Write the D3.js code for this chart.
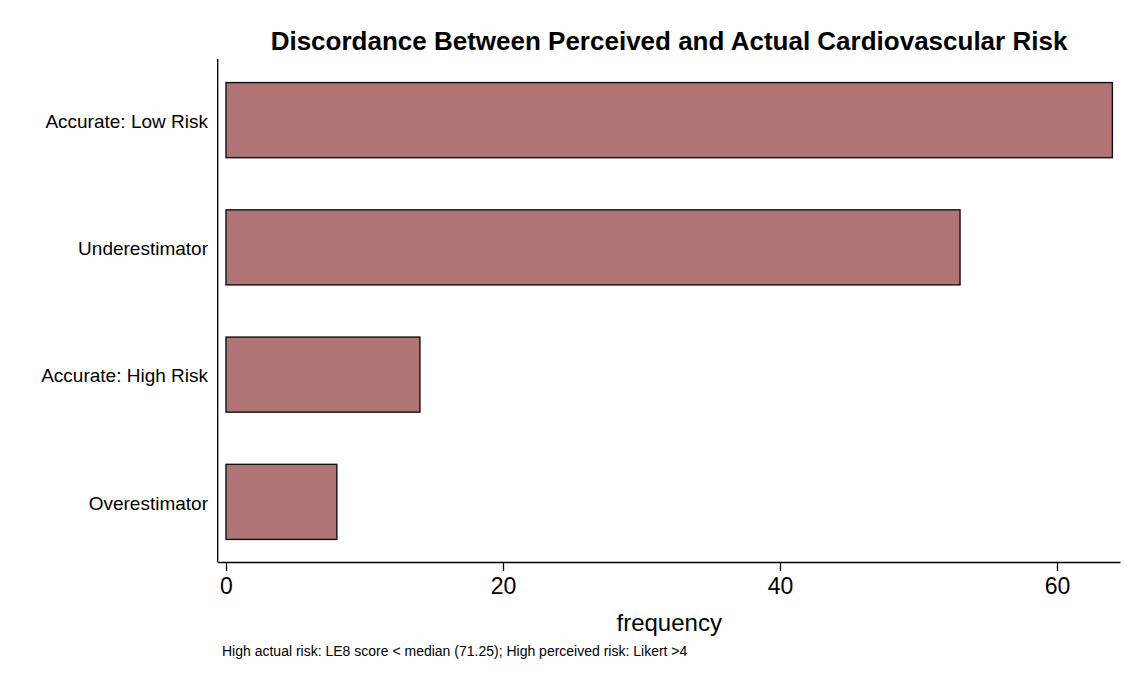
<!DOCTYPE html>
<html>
<head>
<meta charset="utf-8">
<script src="https://cdn.jsdelivr.net/npm/d3@7"></script>
<style>
  body { margin: 0; background: #fff; }
  text { font-family: "Liberation Sans", Arial, sans-serif; }
</style>
</head>
<body>
<svg></svg>
<script>
// categories, top to bottom
const categories = ["Accurate: Low Risk", "Underestimator", "Accurate: High Risk", "Overestimator"];
const frequencies = [64, 53, 14, 8];
const xTicks = [0, 20, 40, 60];

const width = 1145, height = 687;

let svg = d3.select("svg")
  .attr("width", width)
  .attr("height", height);

svg.append("rect").attr("width", width).attr("height", height).attr("fill", "#fff");

let scaleX = d3.scaleLinear().domain([-0.6, 64.55]).range([217.7, 1120]);
let scaleY = d3.scaleBand().domain(categories).range([56.5, 565.5]).paddingInner(0.41).paddingOuter(0.205);

// bars
svg.append("g")
  .selectAll("rect")
  .data(categories)
  .enter()
  .append("rect")
  .attr("x", scaleX(0))
  .attr("y", d => scaleY(d))
  .attr("width", (d, i) => scaleX(frequencies[i]) - scaleX(0))
  .attr("height", scaleY.bandwidth())
  .attr("fill", "#b07474")
  .attr("stroke", "#111")
  .attr("stroke-width", 1.4);

// left axis (line only, labels placed separately)
svg.append("line")
  .attr("x1", 217.7).attr("x2", 217.7)
  .attr("y1", 59).attr("y2", 562.5)
  .attr("stroke", "#000").attr("stroke-width", 1.3);

svg.append("g")
  .selectAll("text")
  .data(categories)
  .enter()
  .append("text")
  .attr("x", 208)
  .attr("y", d => scaleY(d) + scaleY.bandwidth() / 2 + 1)
  .attr("dy", "0.35em")
  .attr("text-anchor", "end")
  .attr("font-size", 19)
  .attr("fill", "#000")
  .text(d => d);

// bottom axis
let xAxis = svg.append("g")
  .attr("transform", "translate(0,562)")
  .call(d3.axisBottom(scaleX).tickValues(xTicks).tickSize(9).tickPadding(7).tickSizeOuter(0));
xAxis.select(".domain").attr("stroke", "#000").attr("stroke-width", 1.3);
xAxis.selectAll(".tick line").attr("stroke", "#000").attr("stroke-width", 1.3);
xAxis.selectAll(".tick text")
  .attr("font-size", 23)
  .attr("font-family", "Liberation Sans, Arial, sans-serif")
  .attr("fill", "#000");

// axis title
svg.append("text")
  .attr("x", scaleX(32))
  .attr("y", 631)
  .attr("text-anchor", "middle")
  .attr("font-size", 24)
  .text("frequency");

// title
svg.append("text")
  .attr("x", 669)
  .attr("y", 50)
  .attr("text-anchor", "middle")
  .attr("font-size", 26)
  .attr("font-weight", "bold")
  .text("Discordance Between Perceived and Actual Cardiovascular Risk");

// note
svg.append("text")
  .attr("x", 222)
  .attr("y", 656)
  .attr("font-size", 14)
  .text("High actual risk: LE8 score < median (71.25); High perceived risk: Likert >4");
</script>
</body>
</html>
